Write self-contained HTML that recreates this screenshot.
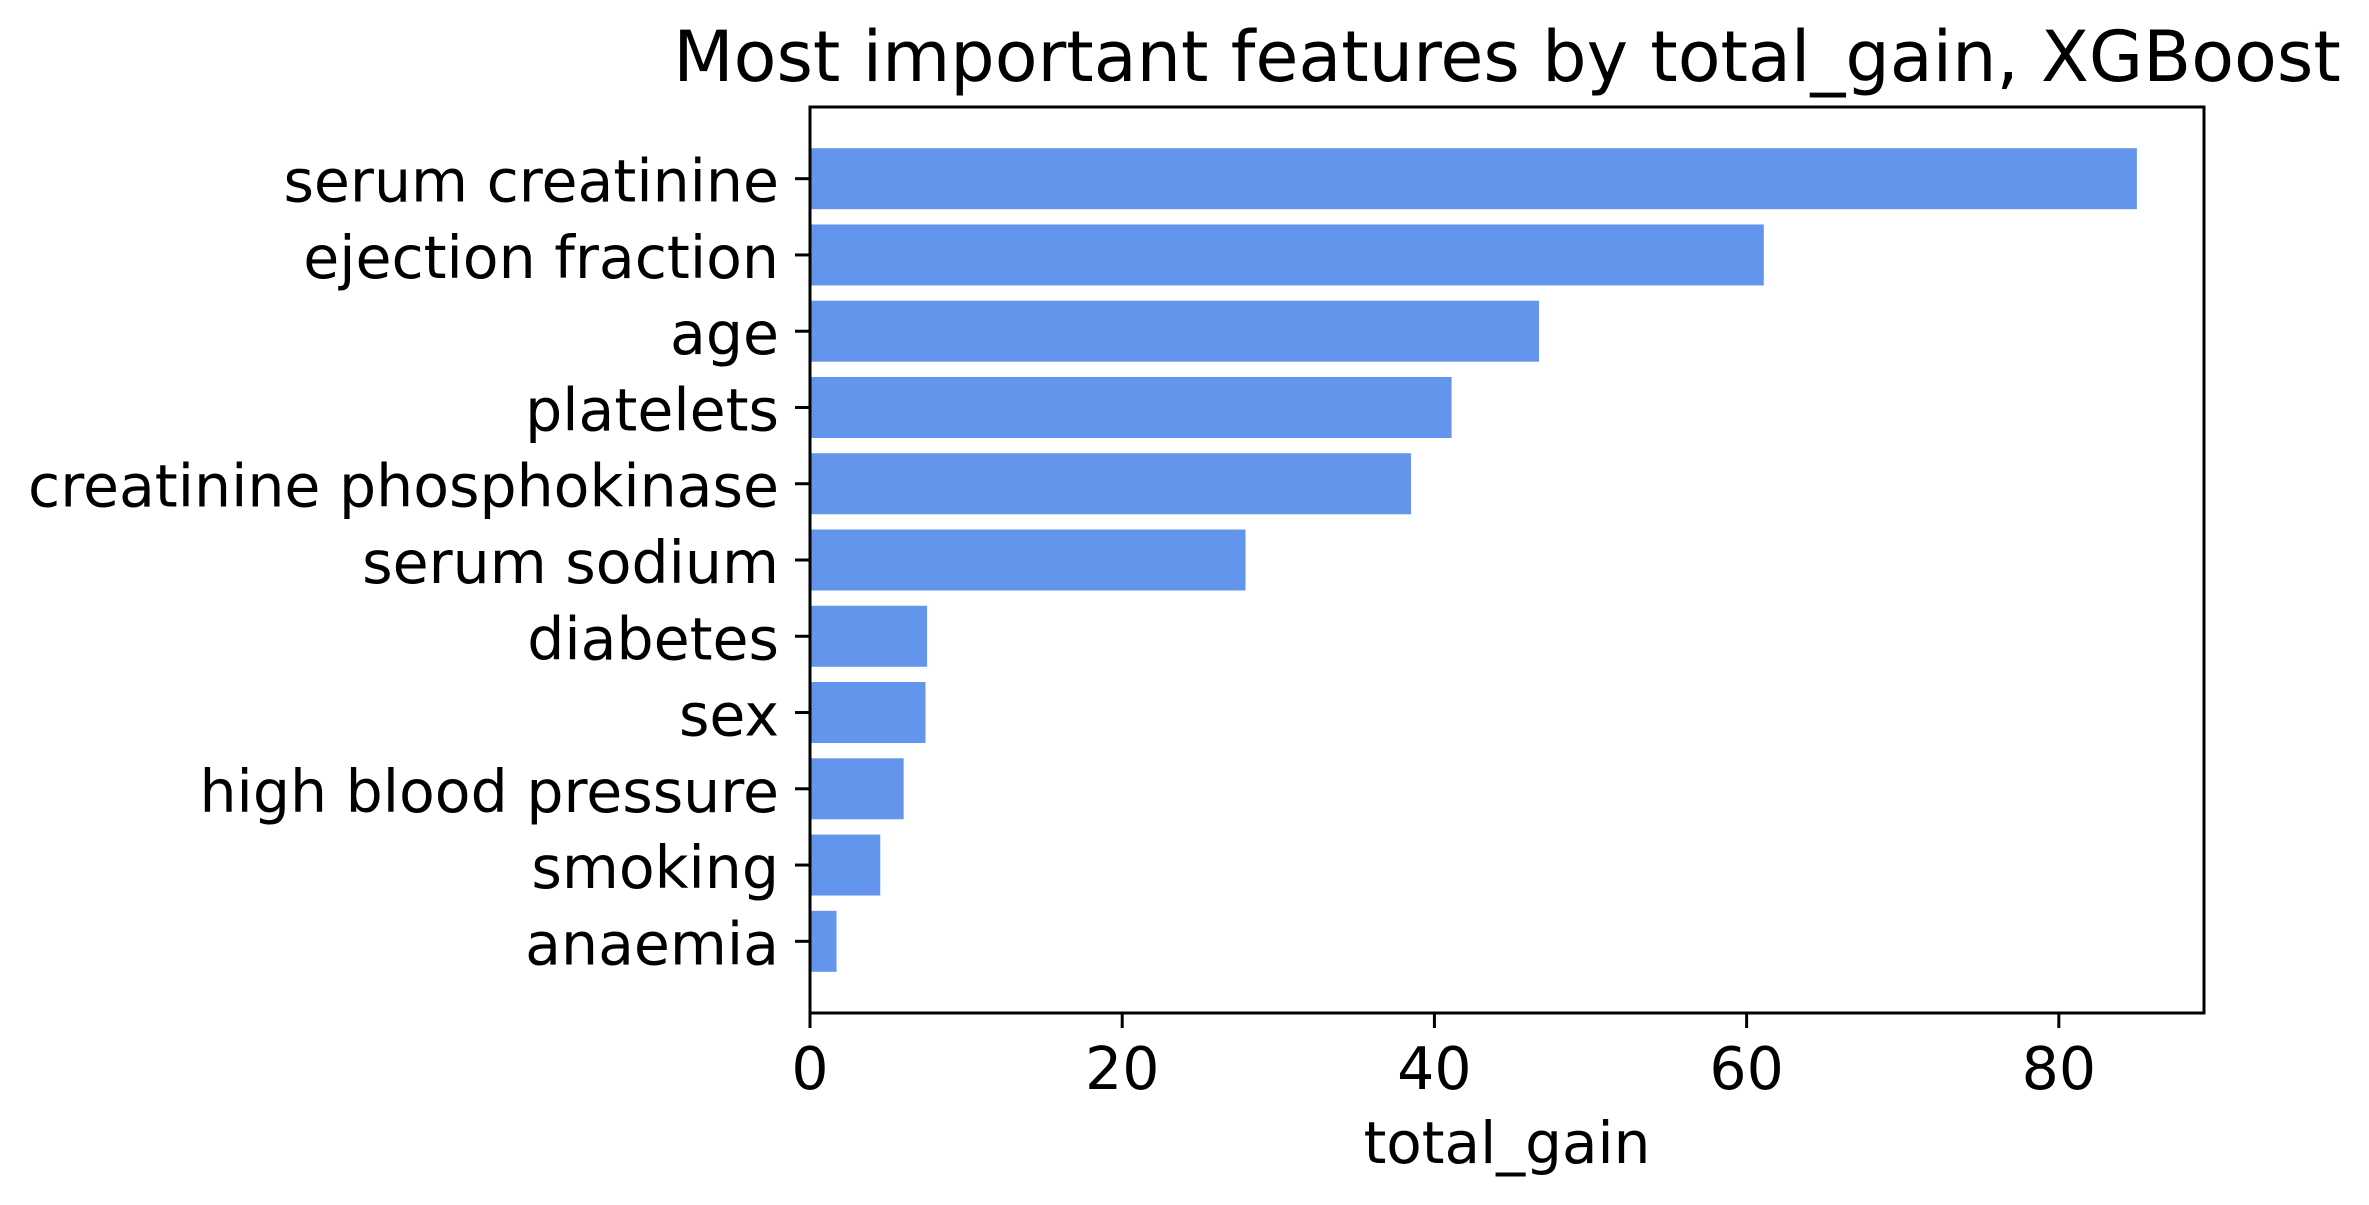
<!DOCTYPE html>
<html><head><meta charset="utf-8"><style>
html,body{margin:0;padding:0;background:#fff;}
svg{display:block;font-family:"DejaVu Sans","Liberation Sans",sans-serif;}
</style></head><body>
<svg id="chart" width="2369" height="1205" viewBox="0 0 2369 1205" xmlns="http://www.w3.org/2000/svg">
<rect width="2369" height="1205" fill="#fff"/>
<text x="1507" y="81" font-size="70" text-anchor="middle" fill="#000">Most important features by total_gain, XGBoost</text>
<g id="bars"></g>
<g id="yticks"></g>
<g id="xticks"></g>
<rect x="810" y="107" width="1394" height="906" fill="none" stroke="#000" stroke-width="3"/>
<text x="1507" y="1163" font-size="58" text-anchor="middle" fill="#000">total_gain</text>
</svg>
<script>
const categories = ["serum creatinine","ejection fraction","age","platelets","creatinine phosphokinase","serum sodium","diabetes","sex","high blood pressure","smoking","anaemia"];
const values = [85.0, 61.1, 46.7, 41.1, 38.5, 27.9, 7.5, 7.4, 6.0, 4.5, 1.7];
const xTickValues = [0, 20, 40, 60, 80];
const xTickLabels = ["0","20","40","60","80"];

const NS = "http://www.w3.org/2000/svg";
const L = 810, R = 2204, T = 107, B = 1013;
const xMax = 89.3;
const x = v => L + (v / xMax) * (R - L);
const n = categories.length;
const yMin = -0.4 - 0.05 * (n - 0.2), yMax = (n - 1) + 0.4 + 0.05 * (n - 0.2);
const y = i => T + ((i - yMin) / (yMax - yMin)) * (B - T);
const unit = (B - T) / (yMax - yMin);

const barsG = document.getElementById('bars');
const yG = document.getElementById('yticks');
const xG = document.getElementById('xticks');

categories.forEach((c, i) => {
  const r = document.createElementNS(NS, 'rect');
  
  
  r.setAttribute('x', x(0));
  r.setAttribute('y', y(i) - 0.4 * unit);
  r.setAttribute('width', x(values[i]) - x(0));
  r.setAttribute('height', 0.8 * unit);
  r.setAttribute('fill', '#6495ed');
  barsG.appendChild(r);

  const t = document.createElementNS(NS, 'line');
  
  
  t.setAttribute('x1', L - 15); t.setAttribute('x2', L);
  t.setAttribute('y1', y(i)); t.setAttribute('y2', y(i));
  t.setAttribute('stroke', '#000'); t.setAttribute('stroke-width', '3');
  yG.appendChild(t);

  const lb = document.createElementNS(NS, 'text');
  
  
  lb.setAttribute('x', L - 31);
  lb.setAttribute('y', y(i) + 23);
  lb.setAttribute('font-size', '58.5');
  lb.setAttribute('text-anchor', 'end');
  lb.textContent = c;
  yG.appendChild(lb);
});

xTickValues.forEach((v, k) => {
  const t = document.createElementNS(NS, 'line');
  
  
  t.setAttribute('x1', x(v)); t.setAttribute('x2', x(v));
  t.setAttribute('y1', B); t.setAttribute('y2', B + 15);
  t.setAttribute('stroke', '#000'); t.setAttribute('stroke-width', '3');
  xG.appendChild(t);

  const lb = document.createElementNS(NS, 'text');
  
  
  lb.setAttribute('x', x(v));
  lb.setAttribute('y', 1089);
  lb.setAttribute('font-size', '58.5');
  lb.setAttribute('text-anchor', 'middle');
  lb.textContent = xTickLabels[k];
  xG.appendChild(lb);
});
</script>
</body></html>
